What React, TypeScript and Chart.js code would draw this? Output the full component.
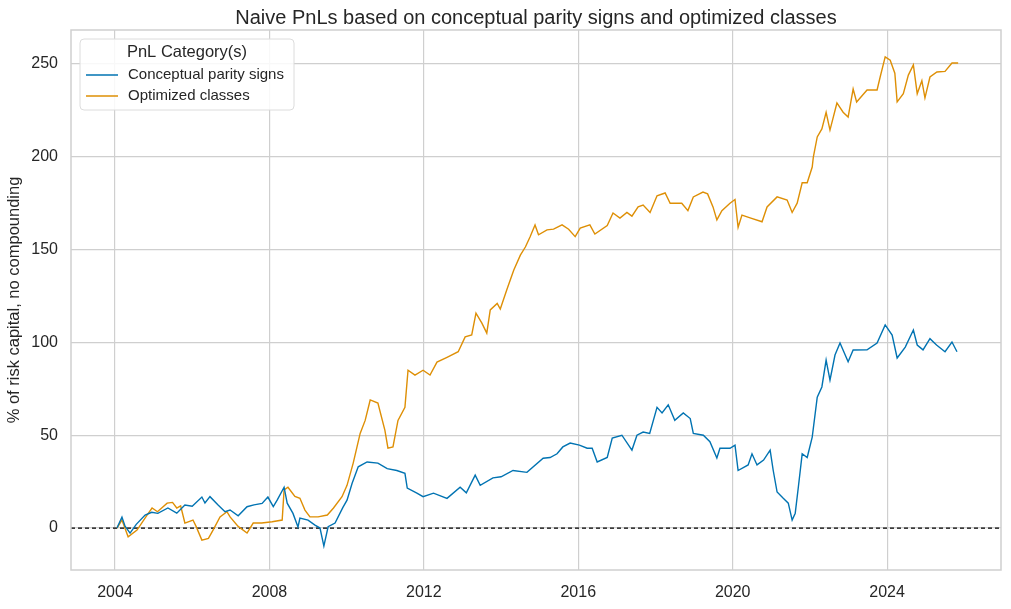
import React, { useEffect, useRef } from "react";
import { Chart, registerables } from "chart.js";

Chart.register(...registerables);

const chartTitle = "Naive PnLs based on conceptual parity signs and optimized classes";
const yAxisLabel = "% of risk capital, no compounding";
const legendTitle = "PnL Category(s)";
const seriesNames = ["Conceptual parity signs", "Optimized classes"];
const xTicks = [2004, 2008, 2012, 2016, 2020, 2024];
const yTicks = [0, 50, 100, 150, 200, 250];
const xRange = [2002.86, 2026.95];
const yRange = [-22.6, 268.3];

const cpsDates = [
  2004.05, 2004.18, 2004.26, 2004.39, 2004.55, 2004.78, 2004.95, 2005.11, 2005.37, 2005.6,
  2005.81, 2006.0, 2006.25, 2006.33, 2006.46, 2006.67, 2006.85, 2006.98, 2007.19, 2007.42,
  2007.6, 2007.81, 2007.96, 2008.1, 2008.2, 2008.38, 2008.46, 2008.61, 2008.74, 2008.79,
  2009.0, 2009.18, 2009.31, 2009.41, 2009.52, 2009.7, 2009.9, 2010.01, 2010.14, 2010.3,
  2010.53, 2010.81, 2011.05, 2011.3, 2011.51, 2011.57, 2011.82, 2011.98, 2012.25, 2012.6,
  2012.94, 2013.1, 2013.33, 2013.46, 2013.79, 2014.0, 2014.31, 2014.67, 2015.09, 2015.27,
  2015.45, 2015.6, 2015.79, 2016.03, 2016.23, 2016.36, 2016.49, 2016.75, 2016.88, 2017.13,
  2017.39, 2017.52, 2017.68, 2017.85, 2018.04, 2018.17, 2018.33, 2018.5, 2018.72, 2018.9,
  2018.98, 2019.24, 2019.41, 2019.59, 2019.67, 2019.93, 2020.06, 2020.14, 2020.4, 2020.5,
  2020.63, 2020.8, 2020.97, 2021.05, 2021.15, 2021.31, 2021.44, 2021.54, 2021.62, 2021.7,
  2021.8, 2021.93, 2022.06, 2022.19, 2022.31, 2022.42, 2022.52, 2022.65, 2022.78, 2022.99,
  2023.12, 2023.48, 2023.74, 2023.95, 2024.13, 2024.26, 2024.47, 2024.68, 2024.78, 2024.93,
  2025.11, 2025.28, 2025.5, 2025.68, 2025.81,
];
const cpsValues = [
  0, 5.9, 1, -2.7, 2, 7, 8.5, 7.9, 10.8, 8,
  12.4, 11.8, 16.7, 13.5, 16.9, 12.4, 8.8, 9.7, 6.6, 11.5,
  12.5, 13.3, 16.7, 11.5, 15, 22, 13.4, 7.9, 0.6, 5.4,
  4.3, 1.6, 0, -9.7, 0.7, 2.7, 11, 15, 24, 33,
  35.6, 35, 32, 31, 29.5, 21.5, 18.8, 16.9, 18.8, 16,
  22, 19, 28.5, 23, 27, 27.6, 31, 30, 37.6, 38,
  40, 43.7, 45.8, 44.7, 43, 43, 35.6, 38, 48.5, 50,
  42, 50, 51.7, 51, 65, 62, 66.4, 58, 62, 59,
  51, 50, 46.5, 37.7, 43, 43, 44.7, 31, 34, 40,
  34, 36.6, 42, 31, 19.4, 16, 13.4, 4.3, 8, 22,
  40, 38, 49, 70.5, 76, 90.5, 79.7, 93.2, 99.7, 89.6,
  95.9, 96, 99.7, 109.4, 104, 91.6, 97.5, 106.7, 98.6, 96,
  102, 98.6, 95, 100.2, 95,
];

const ocDates = [
  2004.05, 2004.18, 2004.34, 2004.57, 2004.83, 2004.96, 2005.1, 2005.35, 2005.49, 2005.6,
  2005.7, 2005.81, 2006.02, 2006.1, 2006.25, 2006.42, 2006.54, 2006.72, 2006.9, 2006.98,
  2007.19, 2007.42, 2007.58, 2007.8, 2008.07, 2008.33, 2008.38, 2008.48, 2008.66, 2008.79,
  2008.92, 2009.05, 2009.26, 2009.5, 2009.66, 2009.88, 2010.01, 2010.17, 2010.35, 2010.48,
  2010.61, 2010.81, 2010.99, 2011.07, 2011.2, 2011.33, 2011.51, 2011.59, 2011.77, 2011.98,
  2012.16, 2012.34, 2012.6, 2012.89, 2013.07, 2013.24, 2013.35, 2013.5, 2013.63, 2013.72,
  2013.9, 2013.98, 2014.16, 2014.33, 2014.5, 2014.63, 2014.75, 2014.88, 2014.97, 2015.19,
  2015.36, 2015.58, 2015.75, 2015.92, 2016.05, 2016.3, 2016.43, 2016.75, 2016.9, 2017.08,
  2017.26, 2017.39, 2017.55, 2017.68, 2017.86, 2018.04, 2018.25, 2018.38, 2018.68, 2018.84,
  2018.98, 2019.23, 2019.35, 2019.49, 2019.59, 2019.72, 2019.93, 2020.06, 2020.14, 2020.24,
  2020.47, 2020.76, 2020.89, 2021.15, 2021.41, 2021.54, 2021.67, 2021.8, 2021.93, 2022.06,
  2022.09, 2022.19, 2022.31, 2022.42, 2022.52, 2022.7, 2022.86, 2022.99, 2023.12, 2023.21,
  2023.48, 2023.74, 2023.82, 2023.95, 2024.08, 2024.2, 2024.26, 2024.42, 2024.55, 2024.68,
  2024.78, 2024.9, 2024.98, 2025.11, 2025.29, 2025.5, 2025.68, 2025.84,
];
const ocValues = [
  0, 4.3, -4.7, -1.1, 7, 10.8, 8.8, 13.4, 13.8, 10.8,
  12, 2.7, 4.3, 0.9, -6.5, -5.6, -1.1, 6, 8.8, 6,
  0.9, -2.7, 2.7, 2.7, 3.4, 4.3, 20.5, 22, 17, 16,
  9.7, 6, 6, 7, 10.8, 16.9, 23, 35, 51, 58,
  69, 67.3, 52.8, 43, 43.7, 58, 65, 85, 82.4, 85,
  82.4, 89.4, 92, 95, 103, 104, 115.8, 110.5, 105, 117.5,
  121, 118, 129, 139, 147, 151.4, 156.8, 163.3, 158, 160.6,
  161, 163.3, 161, 157, 161.6, 163.3, 158.4, 163, 169.7, 167,
  170, 168, 173, 174, 170, 179, 180.5, 175, 175, 171,
  178.4, 181, 180, 173, 166, 171, 175, 177, 162, 168.6,
  167, 165, 173, 178.4, 176.7, 170, 175, 186, 186, 194.5,
  200, 210.7, 215, 224, 214.4, 229, 224, 221.4, 236.5, 229.5,
  236, 236, 243, 253.8, 252, 245, 229.6, 234, 244, 249.5,
  234, 241, 231.7, 243, 245.7, 246, 250.5, 250.5,
];

const colors = ["#0173b2", "#de8f05"];
const FONT = "'Liberation Sans', Arial, sans-serif";
const GRID = "#cfcfcf";
const TEXT = "#262626";

const toPoints = (xs: number[], ys: number[]) => xs.map((x, i) => ({ x, y: ys[i] }));

const framePlugin = {
  id: "frameAndLegend",
  afterDraw(chart: any) {
    const { ctx, chartArea } = chart;
    ctx.save();
    ctx.strokeStyle = GRID;
    ctx.lineWidth = 1.5;
    ctx.strokeRect(chartArea.left, chartArea.top, chartArea.right - chartArea.left, chartArea.bottom - chartArea.top);

    // title, centred over the plot area
    ctx.fillStyle = TEXT;
    ctx.textAlign = "center";
    ctx.textBaseline = "middle";
    ctx.font = `20px ${FONT}`;
    ctx.fillText(chartTitle, (chartArea.left + chartArea.right) / 2, 18);

    // legend box
    const bx = chartArea.left + 9;
    const by = chartArea.top + 9;
    const bw = 214;
    const bh = 71;
    const r = 4;
    ctx.beginPath();
    ctx.moveTo(bx + r, by);
    ctx.lineTo(bx + bw - r, by);
    ctx.quadraticCurveTo(bx + bw, by, bx + bw, by + r);
    ctx.lineTo(bx + bw, by + bh - r);
    ctx.quadraticCurveTo(bx + bw, by + bh, bx + bw - r, by + bh);
    ctx.lineTo(bx + r, by + bh);
    ctx.quadraticCurveTo(bx, by + bh, bx, by + bh - r);
    ctx.lineTo(bx, by + r);
    ctx.quadraticCurveTo(bx, by, bx + r, by);
    ctx.closePath();
    ctx.fillStyle = "rgba(255,255,255,0.85)";
    ctx.fill();
    ctx.strokeStyle = "#dcdcdc";
    ctx.lineWidth = 1;
    ctx.stroke();

    ctx.fillStyle = TEXT;
    ctx.textBaseline = "middle";
    ctx.textAlign = "center";
    ctx.font = `16.5px ${FONT}`;
    ctx.fillText(legendTitle, bx + 107, by + 13);
    ctx.textAlign = "left";
    ctx.font = `15px ${FONT}`;
    seriesNames.forEach((name, i) => {
      const yy = by + 36 + i * 21;
      ctx.strokeStyle = colors[i];
      ctx.lineWidth = 1.5;
      ctx.beginPath();
      ctx.moveTo(bx + 6, yy);
      ctx.lineTo(bx + 38, yy);
      ctx.stroke();
      ctx.fillStyle = TEXT;
      ctx.fillText(name, bx + 48, yy);
    });
    ctx.restore();
  },
};

export default function App() {
  const ref = useRef<HTMLCanvasElement | null>(null);
  useEffect(() => {
    if (!ref.current) return;
    const chart = new Chart(ref.current, {
      type: "line",
      data: {
        datasets: [
          {
            label: seriesNames[0],
            data: toPoints(cpsDates, cpsValues),
            borderColor: colors[0],
            borderWidth: 1.4,
            pointRadius: 0,
            tension: 0,
          },
          {
            label: seriesNames[1],
            data: toPoints(ocDates, ocValues),
            borderColor: colors[1],
            borderWidth: 1.4,
            pointRadius: 0,
            tension: 0,
          },
          {
            label: "zero",
            data: [
              { x: xRange[0], y: 0 },
              { x: xRange[1], y: 0 },
            ],
            borderColor: "#000000",
            borderWidth: 1.2,
            borderDash: [4, 3],
            pointRadius: 0,
          },
        ],
      },
      options: {
        animation: false,
        responsive: false,
        maintainAspectRatio: false,
        layout: { padding: { left: 0, right: 10, top: 30, bottom: 0 } },
        plugins: {
          legend: { display: false },
          tooltip: { enabled: false },
          title: { display: false },
        },
        scales: {
          x: {
            type: "linear",
            min: xRange[0],
            max: xRange[1],
            afterBuildTicks: (scale: any) => {
              scale.ticks = xTicks.map((v) => ({ value: v }));
            },
            afterFit: (scale: any) => {
              scale.height = 39;
            },
            ticks: {
              color: TEXT,
              font: { family: FONT, size: 16 },
              padding: 13,
              maxRotation: 0,
              callback: (v: any) => String(v),
            },
            grid: { color: GRID, lineWidth: 1.2, drawTicks: false },
            border: { display: false },
          },
          y: {
            type: "linear",
            min: yRange[0],
            max: yRange[1],
            afterBuildTicks: (scale: any) => {
              scale.ticks = yTicks.map((v) => ({ value: v }));
            },
            afterFit: (scale: any) => {
              scale.width = 71;
            },
            ticks: {
              color: TEXT,
              font: { family: FONT, size: 16 },
              padding: 13,
              callback: (v: any) => String(v),
            },
            grid: { color: GRID, lineWidth: 1.2, drawTicks: false },
            border: { display: false },
            title: {
              display: true,
              text: yAxisLabel,
              color: TEXT,
              font: { family: FONT, size: 16.5 },
              padding: { top: 5, bottom: 0 },
            },
          },
        },
      },
      plugins: [framePlugin],
    });
    return () => chart.destroy();
  }, []);
  return (
    <div style={{ position: "fixed", left: 0, top: 0, width: 1011, height: 609, background: "#fff" }}>
      <canvas ref={ref} width={1011} height={609} style={{ width: 1011, height: 609 }} />
    </div>
  );
}
